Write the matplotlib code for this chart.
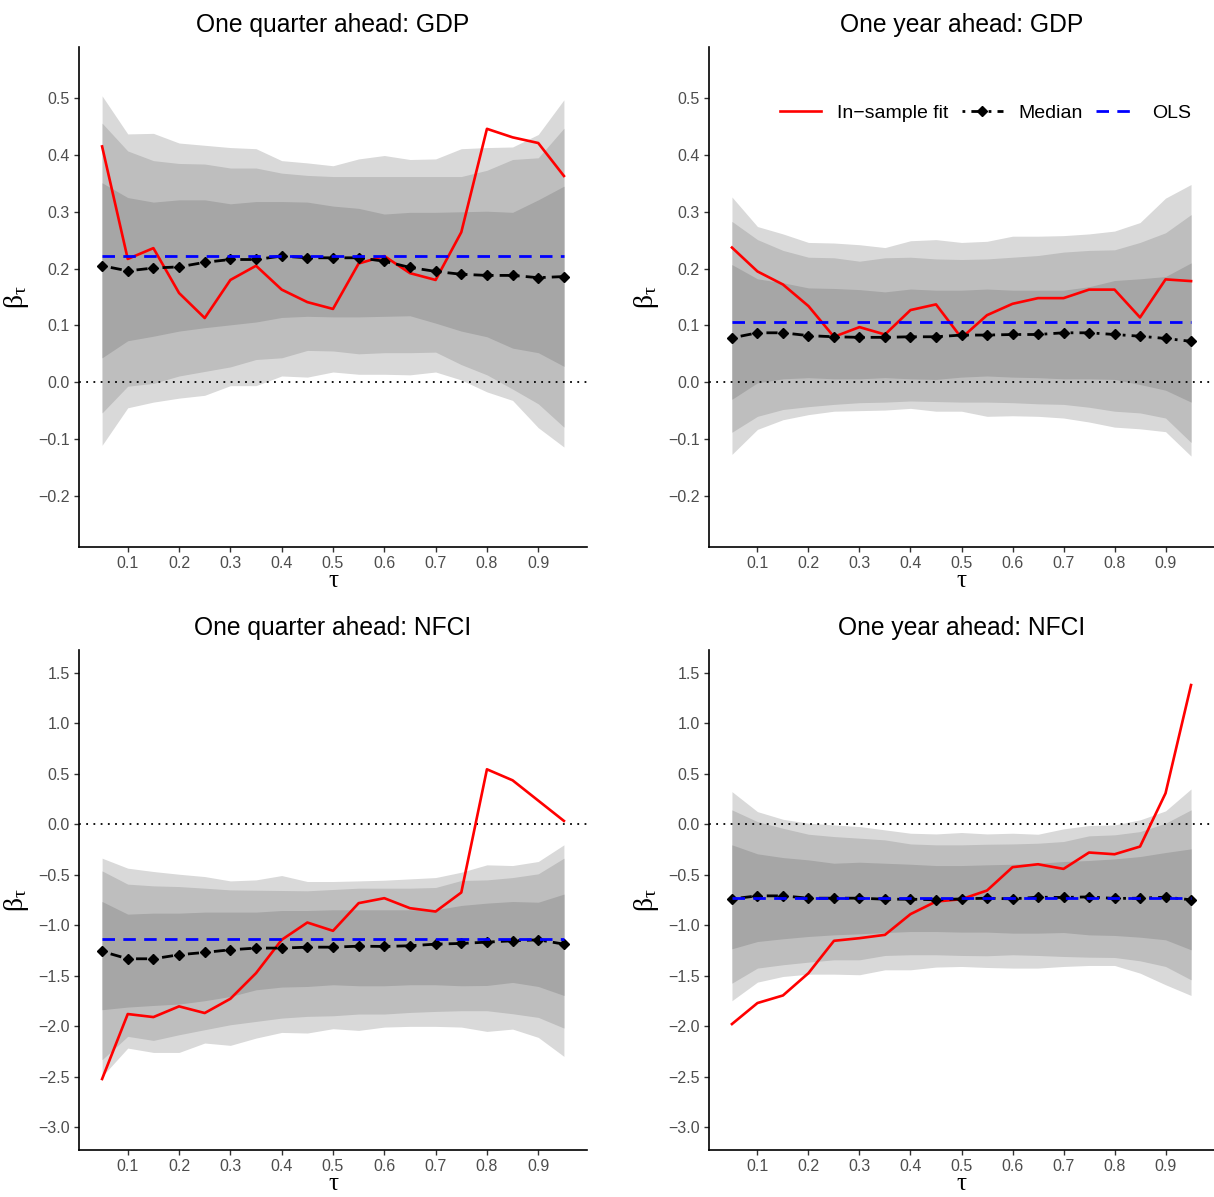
import matplotlib
matplotlib.use("Agg")
import matplotlib.pyplot as plt

plt.rcParams['font.family'] = ['Liberation Sans', 'DejaVu Sans']
plt.rcParams['mathtext.fontset'] = 'custom'
plt.rcParams['mathtext.rm'] = 'Liberation Serif'
plt.rcParams['mathtext.it'] = 'Liberation Serif'

tau = [0.05, 0.10, 0.15, 0.20, 0.25, 0.30, 0.35, 0.40, 0.45, 0.50,
       0.55, 0.60, 0.65, 0.70, 0.75, 0.80, 0.85, 0.90, 0.95]

# One quarter ahead: GDP
qgdp_fit = [0.415, 0.217, 0.236, 0.157, 0.113, 0.180, 0.205, 0.163, 0.141, 0.129,
            0.209, 0.222, 0.192, 0.180, 0.264, 0.446, 0.431, 0.421, 0.363]
qgdp_med = [0.205, 0.196, 0.201, 0.203, 0.211, 0.216, 0.216, 0.222, 0.219, 0.219,
            0.219, 0.213, 0.202, 0.195, 0.190, 0.188, 0.188, 0.184, 0.186]
qgdp_ols = 0.223
qgdp_hi3 = [0.504, 0.437, 0.438, 0.421, 0.417, 0.413, 0.411, 0.390, 0.386, 0.381,
            0.393, 0.399, 0.392, 0.393, 0.411, 0.413, 0.414, 0.436, 0.497]
qgdp_hi2 = [0.456, 0.407, 0.390, 0.385, 0.384, 0.377, 0.377, 0.368, 0.364, 0.362,
            0.362, 0.362, 0.362, 0.362, 0.362, 0.373, 0.392, 0.395, 0.447]
qgdp_hi1 = [0.351, 0.325, 0.317, 0.321, 0.321, 0.314, 0.318, 0.318, 0.317, 0.310,
            0.306, 0.296, 0.299, 0.299, 0.300, 0.301, 0.299, 0.321, 0.345]
qgdp_lo1 = [0.043, 0.073, 0.081, 0.090, 0.096, 0.101, 0.106, 0.114, 0.116, 0.115,
            0.115, 0.116, 0.117, 0.104, 0.090, 0.080, 0.060, 0.052, 0.028]
qgdp_lo2 = [-0.054, -0.007, -0.002, 0.011, 0.019, 0.027, 0.040, 0.043, 0.056, 0.055,
            0.050, 0.052, 0.052, 0.053, 0.031, 0.013, -0.012, -0.038, -0.079]
qgdp_lo3 = [-0.111, -0.045, -0.035, -0.028, -0.023, -0.006, -0.006, 0.011, 0.009, 0.018,
            0.014, 0.014, 0.013, 0.018, 0.004, -0.017, -0.032, -0.080, -0.114]

# One year ahead: GDP
ygdp_fit = [0.237, 0.195, 0.172, 0.134, 0.080, 0.097, 0.084, 0.127, 0.137, 0.078,
            0.118, 0.138, 0.148, 0.148, 0.163, 0.163, 0.114, 0.181, 0.178]
ygdp_med = [0.078, 0.087, 0.087, 0.082, 0.080, 0.079, 0.079, 0.080, 0.080, 0.083,
            0.083, 0.084, 0.084, 0.087, 0.087, 0.084, 0.081, 0.077, 0.072]
ygdp_ols = 0.106
ygdp_hi3 = [0.326, 0.274, 0.261, 0.246, 0.245, 0.242, 0.237, 0.249, 0.251, 0.246,
            0.248, 0.257, 0.257, 0.258, 0.261, 0.266, 0.281, 0.324, 0.348]
ygdp_hi2 = [0.283, 0.251, 0.232, 0.220, 0.219, 0.213, 0.219, 0.220, 0.217, 0.216,
            0.217, 0.220, 0.223, 0.229, 0.232, 0.233, 0.246, 0.263, 0.295]
ygdp_hi1 = [0.207, 0.182, 0.175, 0.166, 0.165, 0.163, 0.159, 0.164, 0.162, 0.162,
            0.164, 0.162, 0.162, 0.162, 0.168, 0.179, 0.182, 0.186, 0.210]
ygdp_lo1 = [-0.030, -0.001, 0.006, 0.008, 0.006, 0.006, 0.008, 0.006, 0.005, 0.009,
            0.011, 0.009, 0.008, 0.006, 0.006, 0.005, -0.004, -0.014, -0.035]
ygdp_lo2 = [-0.088, -0.060, -0.048, -0.043, -0.039, -0.036, -0.035, -0.033, -0.034, -0.035,
            -0.035, -0.036, -0.038, -0.039, -0.044, -0.051, -0.054, -0.063, -0.106]
ygdp_lo3 = [-0.127, -0.083, -0.066, -0.057, -0.051, -0.050, -0.049, -0.046, -0.051, -0.051,
            -0.060, -0.059, -0.060, -0.063, -0.070, -0.079, -0.082, -0.087, -0.130]

# One quarter ahead: NFCI
qnfci_fit = [-2.522, -1.879, -1.909, -1.803, -1.869, -1.728, -1.474, -1.144, -0.973, -1.055,
             -0.781, -0.732, -0.831, -0.864, -0.676, 0.544, 0.435, 0.234, 0.033]
qnfci_med = [-1.259, -1.332, -1.332, -1.292, -1.269, -1.243, -1.226, -1.226, -1.217, -1.217,
             -1.207, -1.210, -1.203, -1.187, -1.180, -1.167, -1.154, -1.144, -1.187]
qnfci_ols = -1.137
qnfci_hi3 = [-0.336, -0.435, -0.468, -0.495, -0.518, -0.561, -0.551, -0.508, -0.567, -0.567,
             -0.561, -0.554, -0.541, -0.528, -0.475, -0.402, -0.409, -0.369, -0.204]
qnfci_hi2 = [-0.462, -0.593, -0.610, -0.617, -0.633, -0.650, -0.653, -0.656, -0.659, -0.646,
             -0.633, -0.633, -0.633, -0.626, -0.557, -0.551, -0.528, -0.491, -0.336]
qnfci_hi1 = [-0.765, -0.890, -0.880, -0.880, -0.870, -0.870, -0.870, -0.854, -0.854, -0.847,
             -0.847, -0.847, -0.847, -0.847, -0.804, -0.781, -0.765, -0.772, -0.692]
qnfci_lo1 = [-1.836, -1.810, -1.794, -1.780, -1.747, -1.705, -1.639, -1.612, -1.606, -1.589,
             -1.599, -1.599, -1.589, -1.589, -1.599, -1.596, -1.566, -1.606, -1.695]
qnfci_lo2 = [-2.331, -2.100, -2.140, -2.084, -2.034, -1.985, -1.952, -1.919, -1.902, -1.896,
             -1.879, -1.879, -1.863, -1.853, -1.846, -1.846, -1.876, -1.912, -2.018]
qnfci_lo3 = [-2.496, -2.216, -2.259, -2.259, -2.166, -2.189, -2.117, -2.061, -2.067, -2.024,
             -2.041, -2.008, -2.001, -2.001, -2.008, -2.051, -2.028, -2.110, -2.298]

# One year ahead: NFCI
ynfci_fit = [-1.978, -1.770, -1.695, -1.474, -1.154, -1.128, -1.095, -0.890, -0.765, -0.742,
             -0.656, -0.425, -0.396, -0.442, -0.280, -0.297, -0.221, 0.307, 1.378]
ynfci_med = [-0.739, -0.709, -0.709, -0.732, -0.732, -0.732, -0.742, -0.742, -0.748, -0.739,
             -0.732, -0.739, -0.722, -0.725, -0.719, -0.735, -0.732, -0.722, -0.748]
ynfci_ols = -0.735
ynfci_hi3 = [0.323, 0.125, 0.049, 0.010, -0.007, -0.023, -0.056, -0.089, -0.096, -0.082,
             -0.096, -0.089, -0.099, -0.046, -0.013, -0.007, 0.043, 0.132, 0.349]
ynfci_hi2 = [0.142, 0.026, -0.040, -0.099, -0.122, -0.138, -0.155, -0.195, -0.204, -0.204,
             -0.198, -0.195, -0.188, -0.171, -0.115, -0.105, -0.073, 0.010, 0.142]
ynfci_hi1 = [-0.204, -0.293, -0.330, -0.353, -0.386, -0.376, -0.386, -0.396, -0.409, -0.409,
             -0.402, -0.396, -0.386, -0.369, -0.359, -0.343, -0.320, -0.280, -0.244]
ynfci_lo1 = [-1.233, -1.161, -1.134, -1.111, -1.095, -1.085, -1.072, -1.062, -1.062, -1.068,
             -1.068, -1.078, -1.078, -1.072, -1.095, -1.101, -1.118, -1.144, -1.243]
ynfci_lo2 = [-1.573, -1.424, -1.391, -1.365, -1.342, -1.342, -1.299, -1.292, -1.292, -1.299,
             -1.302, -1.292, -1.299, -1.309, -1.316, -1.319, -1.352, -1.408, -1.540]
ynfci_lo3 = [-1.747, -1.563, -1.507, -1.484, -1.484, -1.490, -1.441, -1.441, -1.414, -1.408,
             -1.418, -1.424, -1.424, -1.408, -1.398, -1.398, -1.474, -1.589, -1.695]

xticks = [0.1, 0.2, 0.3, 0.4, 0.5, 0.6, 0.7, 0.8, 0.9]
gdp_yticks = [-0.2, -0.1, 0.0, 0.1, 0.2, 0.3, 0.4, 0.5]
nfci_yticks = [-3.0, -2.5, -2.0, -1.5, -1.0, -0.5, 0.0, 0.5, 1.0, 1.5]

panels = [
    ("One quarter ahead: GDP", qgdp_fit, qgdp_med, qgdp_ols,
     (qgdp_lo3, qgdp_hi3, qgdp_lo2, qgdp_hi2, qgdp_lo1, qgdp_hi1), gdp_yticks, (-0.25, 0.55)),
    ("One year ahead: GDP", ygdp_fit, ygdp_med, ygdp_ols,
     (ygdp_lo3, ygdp_hi3, ygdp_lo2, ygdp_hi2, ygdp_lo1, ygdp_hi1), gdp_yticks, (-0.25, 0.55)),
    ("One quarter ahead: NFCI", qnfci_fit, qnfci_med, qnfci_ols,
     (qnfci_lo3, qnfci_hi3, qnfci_lo2, qnfci_hi2, qnfci_lo1, qnfci_hi1), nfci_yticks, (-3.0, 1.5)),
    ("One year ahead: NFCI", ynfci_fit, ynfci_med, ynfci_ols,
     (ynfci_lo3, ynfci_hi3, ynfci_lo2, ynfci_hi2, ynfci_lo1, ynfci_hi1), nfci_yticks, (-3.0, 1.5)),
]

W, H = 1214, 1197
fig = plt.figure(figsize=(W / 100, H / 100), dpi=100)

# axes boxes in pixels: left, top, width, height
boxes = [(79, 47, 508, 500), (709, 47, 505, 500),
         (79, 650, 508, 500), (709, 650, 505, 500)]

band_colors = ['#d9d9d9', '#bebebe', '#a6a6a6']
text_gray = '#4d4d4d'
beta_tau = '$\\mathrm{\u03b2}_{\\mathrm{\u03c4}}$'

for i, (title, fit, med, ols, bands, yticks, ylim) in enumerate(panels):
    l, t, w, h = boxes[i]
    ax = fig.add_axes([l / W, 1 - (t + h) / H, w / W, h / H])

    lo3, hi3, lo2, hi2, lo1, hi1 = bands
    ax.fill_between(tau, lo3, hi3, color=band_colors[0], lw=0)
    ax.fill_between(tau, lo2, hi2, color=band_colors[1], lw=0)
    ax.fill_between(tau, lo1, hi1, color=band_colors[2], lw=0)

    ax.axhline(0, color='black', ls=(0, (1, 3)), lw=1.3)

    ax.plot(tau, fit, color='red', lw=1.9, label='In\u2212sample fit')
    ax.plot(tau, med, color='black', lw=2.0, ls=(0, (1, 2.2, 4, 2.2)),
            marker='D', markersize=5, label='Median')
    ax.plot([tau[0], tau[-1]], [ols, ols], color='blue', lw=2.0,
            ls=(0, (4.5, 3)), label='OLS')

    rng = tau[-1] - tau[0]
    ax.set_xlim(tau[0] - 0.05 * rng, tau[-1] + 0.05 * rng)
    yr = ylim[1] - ylim[0]
    ax.set_ylim(ylim[0] - 0.05 * yr, ylim[1] + 0.05 * yr)

    ax.set_xticks(xticks)
    ax.set_xticklabels([f"{v:.1f}" for v in xticks])
    ax.set_yticks(yticks)
    ax.set_yticklabels([f"{v:.1f}".replace('-', '\u2212') for v in yticks])

    for s in ['top', 'right']:
        ax.spines[s].set_visible(False)
    for s in ['left', 'bottom']:
        ax.spines[s].set_color('black')
        ax.spines[s].set_linewidth(1.2)
    ax.tick_params(axis='both', colors='#333333', labelcolor=text_gray,
                   labelsize=11.5, length=3.5, width=1, pad=3)

    ax.set_title(title, fontsize=17.7, pad=11)
    ax.set_xlabel('\u03c4', family='Liberation Serif', fontsize=18, labelpad=-1)
    ax.set_ylabel(beta_tau, fontsize=20, labelpad=5)

    if i == 1:
        ax.legend(loc='center right', bbox_to_anchor=(0.99, 0.868), ncol=3,
                  frameon=False, fontsize=14, handlelength=2.1,
                  columnspacing=0.7, handletextpad=0.8)

fig.savefig('out.png', dpi=100)
